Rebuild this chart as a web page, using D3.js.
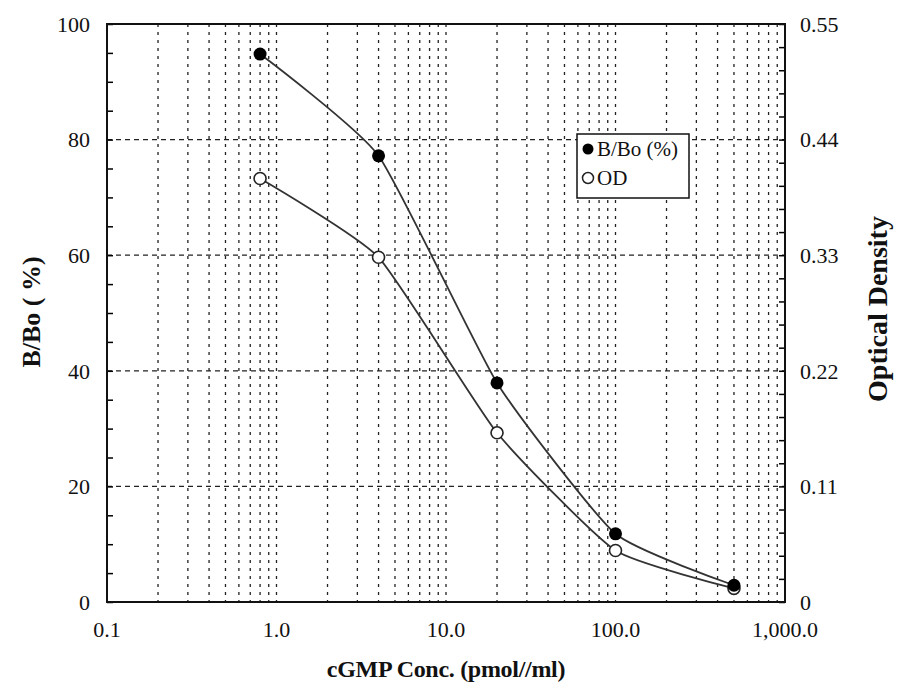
<!DOCTYPE html>
<html>
<head>
<meta charset="utf-8">
<script src="https://cdn.jsdelivr.net/npm/d3@7"></script>
<style>
  body { margin: 0; background: #fff; }
  text { font-family: "Liberation Serif", "Times New Roman", serif; fill: #111; }
</style>
</head>
<body>
<div class="main"></div>
<script>
const conc = [0.8, 4, 20, 100, 500];
const bBo = [94.8, 77.2, 37.9, 11.8, 2.9];
const od = [0.403, 0.328, 0.161, 0.049, 0.013];

const xTicks = [0.1, 1, 10, 100, 1000];
const xTickLabels = ["0.1", "1.0", "10.0", "100.0", "1,000.0"];
const leftTicks = [0, 20, 40, 60, 80, 100];
const rightTicks = [0, 0.11, 0.22, 0.33, 0.44, 0.55];
const legendNames = ["B/Bo (%)", "OD"];

const width = 898, height = 685;
const margin = { left: 107, right: 113, top: 24, bottom: 83 };

const svg = d3.select(".main").append("svg")
    .attr("width", width)
    .attr("height", height);

const x = d3.scaleLog()
    .domain([0.1, 1000])
    .range([margin.left, width - margin.right]);

const y = d3.scaleLinear()
    .domain([0, 100])
    .range([height - margin.bottom, margin.top]);

const y2 = d3.scaleLinear()
    .domain([0, 0.55])
    .range([height - margin.bottom, margin.top]);

// vertical dotted grid (2..10 in every decade)
let gridX = [];
[0.1, 1, 10, 100].forEach(dec => {
    for (let k = 2; k <= 10; k++) {
        if (dec * k < 1000) gridX.push(dec * k);
    }
});

svg.append("g")
    .selectAll("line")
    .data(gridX)
    .enter().append("line")
    .attr("x1", d => x(d))
    .attr("x2", d => x(d))
    .attr("y1", y(100))
    .attr("y2", y(0))
    .attr("stroke", "#222")
    .attr("stroke-width", 1.3)
    .attr("stroke-dasharray", "3,5");

// horizontal dashed grid
svg.append("g")
    .selectAll("line")
    .data(leftTicks.filter(d => d > 0 && d < 100))
    .enter().append("line")
    .attr("x1", x(0.1))
    .attr("x2", x(1000))
    .attr("y1", d => y(d))
    .attr("y2", d => y(d))
    .attr("stroke", "#222")
    .attr("stroke-width", 1.3)
    .attr("stroke-dasharray", "5,4");

// axes with inward ticks
const leftAxis = d3.axisLeft(y)
    .tickValues(d3.range(0, 101, 5))
    .tickSize(-6)
    .tickFormat("");
svg.append("g")
    .attr("transform", `translate(${margin.left},0)`)
    .call(leftAxis)
    .call(g => g.select(".domain").remove())
    .selectAll("line").attr("stroke-width", 1.5);

const rightAxis = d3.axisRight(y2)
    .tickValues(d3.range(0, 26).map(i => i * 0.022))
    .tickSize(-6)
    .tickFormat("");
svg.append("g")
    .attr("transform", `translate(${width - margin.right},0)`)
    .call(rightAxis)
    .call(g => g.select(".domain").remove())
    .selectAll("line").attr("stroke-width", 1.5);

// frame
svg.append("rect")
    .attr("x", x(0.1))
    .attr("y", y(100))
    .attr("width", x(1000) - x(0.1))
    .attr("height", y(0) - y(100))
    .attr("fill", "none")
    .attr("stroke", "#111")
    .attr("stroke-width", 2);

// tick labels
svg.append("g")
    .selectAll("text")
    .data(leftTicks)
    .enter().append("text")
    .attr("x", margin.left - 17)
    .attr("y", d => y(d))
    .attr("dy", "0.35em")
    .attr("text-anchor", "end")
    .style("font-size", "22px")
    .text(d => d);

svg.append("g")
    .selectAll("text")
    .data(rightTicks)
    .enter().append("text")
    .attr("x", width - margin.right + 15)
    .attr("y", d => y2(d))
    .attr("dy", "0.35em")
    .style("font-size", "22px")
    .text(d => d === 0 ? "0" : d.toFixed(2));

svg.append("g")
    .selectAll("text")
    .data(xTicks)
    .enter().append("text")
    .attr("x", d => x(d))
    .attr("y", height - margin.bottom + 35)
    .attr("text-anchor", "middle")
    .style("font-size", "22px")
    .text((d, i) => xTickLabels[i]);

// axis titles
svg.append("text")
    .attr("x", 446)
    .attr("y", 677)
    .attr("text-anchor", "middle")
    .style("font-size", "24px")
    .style("font-weight", "bold")
    .style("letter-spacing", "-0.3px")
    .text("cGMP Conc. (pmol//ml)");

svg.append("text")
    .attr("transform", "translate(40,312) rotate(-90)")
    .attr("text-anchor", "middle")
    .style("font-size", "26px")
    .style("font-weight", "bold")
    .text("B/Bo ( %)");

svg.append("text")
    .attr("transform", "translate(887,309) rotate(-90)")
    .attr("text-anchor", "middle")
    .style("font-size", "28px")
    .style("font-weight", "bold")
    .text("Optical Density");

// curves
const lineB = d3.line()
    .x((d, i) => x(conc[i]))
    .y(d => y(d))
    .curve(d3.curveCardinal.tension(0.5));

const lineOD = d3.line()
    .x((d, i) => x(conc[i]))
    .y(d => y2(d))
    .curve(d3.curveCardinal.tension(0.5));

svg.append("path")
    .attr("d", lineB(bBo))
    .attr("fill", "none")
    .attr("stroke", "#333")
    .attr("stroke-width", 1.8);

svg.append("path")
    .attr("d", lineOD(od))
    .attr("fill", "none")
    .attr("stroke", "#333")
    .attr("stroke-width", 1.8);

svg.append("g")
    .selectAll("circle")
    .data(od)
    .enter().append("circle")
    .attr("cx", (d, i) => x(conc[i]))
    .attr("cy", d => y2(d))
    .attr("r", 6)
    .attr("fill", "#fff")
    .attr("stroke", "#222")
    .attr("stroke-width", 1.6);

svg.append("g")
    .selectAll("circle")
    .data(bBo)
    .enter().append("circle")
    .attr("cx", (d, i) => x(conc[i]))
    .attr("cy", d => y(d))
    .attr("r", 6.5)
    .attr("fill", "#000");

// legend
const legend = svg.append("g")
    .attr("transform", "translate(577,134)");

legend.append("rect")
    .attr("width", 112)
    .attr("height", 64)
    .attr("fill", "#fff")
    .attr("stroke", "#111")
    .attr("stroke-width", 1.5);

const item = legend.selectAll(".item")
    .data(legendNames)
    .enter().append("g")
    .attr("class", "item")
    .attr("transform", (d, i) => `translate(0,${15 + i * 29})`);

item.append("circle")
    .attr("cx", 11)
    .attr("cy", 0)
    .attr("r", 5.5)
    .attr("fill", (d, i) => i === 0 ? "#000" : "#fff")
    .attr("stroke", "#222")
    .attr("stroke-width", (d, i) => i === 0 ? 0 : 1.5);

item.append("text")
    .attr("x", 20)
    .attr("y", 0)
    .attr("dy", "0.35em")
    .style("font-size", "21px")
    .text(d => d);
</script>
</body>
</html>
